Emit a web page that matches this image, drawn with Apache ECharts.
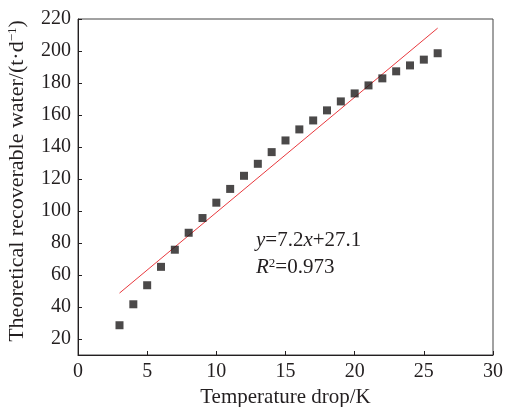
<!DOCTYPE html>
<html><head><meta charset="utf-8">
<script src="https://cdn.jsdelivr.net/npm/echarts@6/dist/echarts.min.js"></script>
<style>html,body{margin:0;padding:0;background:#fff}#c{width:507px;height:407px}</style>
</head><body><div id="c"></div>
<script>
const tempDrop = [3,4,5,6,7,8,9,10,11,12,13,14,15,16,17,18,19,20,21,22,23,24,25,26];
const water = [28.6,41.7,53.6,65.1,75.8,86.4,95.6,105.2,113.8,122,129.5,136.8,144.1,151,156.6,162.9,168.5,173.5,178.5,182.9,187.3,191,194.6,198.6];
const fitSlope = 7.2, fitIntercept = 27.1;
const fitX = [3, 26];
const yTicks = [20,40,60,80,100,120,140,160,180,200,220];
const xTicks = [0,5,10,15,20,25,30];

const fitLine = fitX.map(x => [x, fitSlope*x + fitIntercept]);
const font = 'Liberation Serif, Times New Roman, serif';
const ink = '#231f20';
const chart = echarts.init(document.getElementById('c'));
chart.setOption({
  animation:false,
  grid:{left:78,right:14,top:19,bottom:52,show:true,borderColor:'#444',borderWidth:1,outerBoundsMode:'none',containLabel:false},
  xAxis:{type:'value',min:0,max:30,interval:5,
    name:'Temperature drop/K',nameLocation:'middle',nameGap:30,
    nameTextStyle:{fontFamily:font,fontSize:21,color:ink},
    axisLine:{lineStyle:{color:ink,width:1}},
    axisTick:{inside:true,length:4,lineStyle:{color:ink}},
    axisLabel:{fontFamily:font,fontSize:20,color:ink,margin:7},
    splitLine:{show:false}},
  yAxis:{type:'value',min:10,max:220,
    name:'{a|Theoretical recoverable water/(t·d}{s|−1}{a|)}',nameLocation:'middle',nameGap:50,nameRotate:90,
    nameTextStyle:{padding:[0,0,0,12],rich:{a:{fontFamily:font,fontSize:22,color:ink},s:{fontFamily:font,fontSize:13,color:ink,verticalAlign:'top'}}},
    axisLine:{show:true,lineStyle:{color:ink,width:1}},
    axisTick:{inside:true,length:4,customValues:yTicks,lineStyle:{color:ink}},
    axisLabel:{fontFamily:font,fontSize:20,color:ink,margin:7,customValues:yTicks},
    splitLine:{show:false}},
  series:[
    {type:'line',data:fitLine,showSymbol:false,symbol:'none',lineStyle:{color:'#e8383d',width:1},z:2},
    {type:'scatter',data:tempDrop.map((x,i)=>[x,water[i]]),symbol:'rect',symbolSize:8,itemStyle:{color:'#1e1b1c'},z:3}
  ],
  graphic:[
    {type:'text',left:256,top:230,style:{text:'{i|y}{n|=7.2}{i|x}{n|+27.1}',rich:{i:{fontFamily:font,fontSize:21,fontStyle:'italic',fill:ink},n:{fontFamily:font,fontSize:21,fill:ink}}}},
    {type:'text',left:256,top:257,style:{text:'{i|R}{s|2}{n|=0.973}',rich:{i:{fontFamily:font,fontSize:21,fontStyle:'italic',fill:ink},s:{fontFamily:font,fontSize:13,fill:ink,verticalAlign:'top'},n:{fontFamily:font,fontSize:21,fill:ink}}}}
  ]
});
</script></body></html>
